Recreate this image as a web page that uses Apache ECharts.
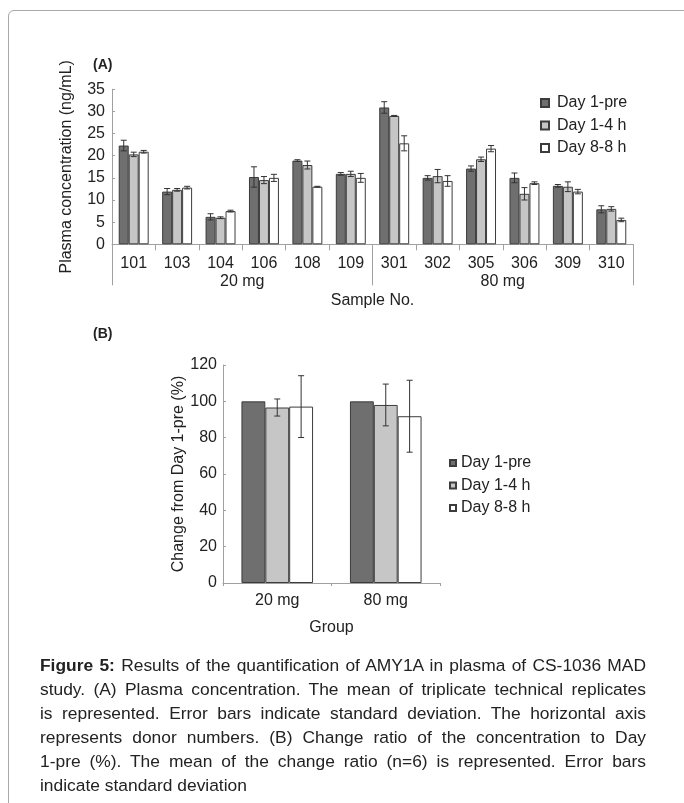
<!DOCTYPE html>
<html>
<head>
<meta charset="utf-8">
<script src="https://cdn.jsdelivr.net/npm/echarts@6/dist/echarts.min.js"></script>
<style>
html,body{margin:0;padding:0;background:#fff;}
#wrap{position:relative;width:684px;height:803px;overflow:hidden;}
#frame{position:absolute;left:8px;top:10px;width:700px;height:820px;border:1px solid #a8a8a8;border-radius:6px;box-sizing:border-box;}
#chart{position:absolute;left:0;top:0;width:684px;height:803px;}
#cap{position:absolute;left:40px;top:653px;width:606px;font-family:"Liberation Sans",Arial,sans-serif;font-size:17.4px;line-height:24.1px;color:#222;}
#cap div{text-align:justify;text-align-last:justify;white-space:nowrap;}
#cap div.last{text-align-last:left;}
</style>
</head>
<body>
<div id="wrap">
<div id="frame"></div>
<div id="chart"></div>
<div id="cap">
<div><b>Figure 5:</b> Results of the quantification of AMY1A in plasma of CS-1036 MAD</div>
<div>study. (A) Plasma concentration. The mean of triplicate technical replicates</div>
<div>is represented. Error bars indicate standard deviation. The horizontal axis</div>
<div>represents donor numbers. (B) Change ratio of the concentration to Day</div>
<div>1-pre (%). The mean of the change ratio (n=6) is represented. Error bars</div>
<div class="last">indicate standard deviation</div>
</div>
</div>
<script>
// ---- Panel A data ----
var samples = ['101','103','104','106','108','109','301','302','305','306','309','310'];
var doseGroups = ['20 mg','80 mg'];
var seriesNames = ['Day 1-pre','Day 1-4 h','Day 8-8 h'];
var aPre    = [22.3, 11.9, 6.2, 15.2, 18.9, 15.9, 30.9, 15.0, 17.1, 15.0, 13.2, 7.9];
var aPreSd  = [1.2, 0.7, 0.7, 2.3, 0.2, 0.3, 1.3, 0.5, 0.6, 1.1, 0.3, 0.8];
var a4h     = [20.3, 12.3, 6.0, 14.5, 17.9, 15.9, 29.0, 15.4, 19.2, 11.4, 13.0, 8.0];
var a4hSd   = [0.5, 0.3, 0.2, 0.8, 0.9, 0.6, 0.1, 1.5, 0.5, 1.4, 1.1, 0.5];
var a8h     = [20.9, 12.8, 7.5, 15.0, 13.0, 15.0, 22.8, 14.3, 21.6, 13.8, 11.9, 5.5];
var a8hSd   = [0.3, 0.3, 0.2, 0.8, 0.1, 1.0, 1.7, 1.2, 0.7, 0.3, 0.5, 0.4];
// ---- Panel B data ----
var groupsB = ['20 mg','80 mg'];
var bPre    = [100, 100];
var bPreSd  = [0, 0];
var b4h     = [96.6, 98.0];
var b4hSd   = [4.7, 11.5];
var b8h     = [97.1, 91.8];
var b8hSd   = [17.0, 19.8];

// fit caption lines (condensed like the original typesetting)
(function () {
  var lines = document.querySelectorAll('#cap div');
  var target = 600;
  var probe = [];
  for (var i = 0; i < lines.length; i++) {
    var s = document.createElement('span');
    s.style.whiteSpace = 'nowrap';
    s.innerHTML = lines[i].innerHTML;
    lines[i].parentNode.appendChild(s);
    var w = s.getBoundingClientRect().width;
    probe.push(s);
    if (i < lines.length - 1) {
      var n = lines[i].textContent.length;
      if (w > target) lines[i].style.letterSpacing = (-(w - target) / n).toFixed(3) + 'px';
    }
  }
  probe.forEach(function (s) { s.parentNode.removeChild(s); });
  var tot = 0, c = 0;
  for (var j = 0; j < lines.length - 1; j++) { tot += parseFloat(lines[j].style.letterSpacing || '0'); c++; }
  lines[lines.length - 1].style.letterSpacing = (tot / c).toFixed(3) + 'px';
})();

var fills = ['#6f6f6f', '#c6c6c6', '#ffffff'];
var edge = '#3c3c3c';
var txt = '#222';
var axisCol = '#a0a0a0';
var FONT = '"Liberation Sans", Arial, sans-serif';

function errSeries(name, xi, yi, means, sds, idx, frac, cap) {
  var data = means.map(function (m, i) { return [i, m, sds[i]]; });
  return {
    type: 'custom', name: name + ' err', xAxisIndex: xi, yAxisIndex: yi, z: 5,
    silent: true, legendHoverLink: false,
    renderItem: function (params, api) {
      var c = api.value(0), m = api.value(1), s = api.value(2);
      var band = api.size([1, 0])[0];
      var off = (idx - 1) * frac * band;
      var top = api.coord([c, m + s]);
      var bot = api.coord([c, m - s]);
      var x = top[0] + off;
      var style = { stroke: '#333', lineWidth: 1 };
      return { type: 'group', children: [
        { type: 'line', shape: { x1: x, y1: top[1], x2: x, y2: bot[1] }, style: style },
        { type: 'line', shape: { x1: x - cap, y1: top[1], x2: x + cap, y2: top[1] }, style: style },
        { type: 'line', shape: { x1: x - cap, y1: bot[1], x2: x + cap, y2: bot[1] }, style: style }
      ] };
    },
    data: data
  };
}

function barSeries(name, xi, yi, vals, idx, width) {
  return {
    type: 'bar', name: name, xAxisIndex: xi, yAxisIndex: yi, barWidth: width, barGap: '0%',
    itemStyle: { color: fills[idx], borderColor: edge, borderWidth: 1 },
    data: vals
  };
}

var chart = echarts.init(document.getElementById('chart'), null, { renderer: 'canvas' });
var fA = 0.23, fB = 0.22;
var option = {
  animation: false,
  textStyle: { fontFamily: FONT, color: txt },
  graphic: [
    { type: 'text', left: 93, top: 58, style: { text: '(A)', font: 'bold 14px ' + FONT, fill: txt } },
    { type: 'text', left: 93, top: 327, style: { text: '(B)', font: 'bold 14px ' + FONT, fill: txt } }
  ],
  legend: [
    { data: seriesNames.map(function (n) { return { name: n }; }), orient: 'vertical', left: 535, top: 90,
      icon: 'rect', itemWidth: 8, itemHeight: 8, itemGap: 6.5,
      textStyle: { fontSize: 16, color: txt, fontFamily: FONT, lineHeight: 16, padding: [0, 0, 0, 3] } },
    { data: seriesNames.map(function (n) { return { name: n + ' ' }; }), orient: 'vertical', left: 444, top: 450,
      icon: 'rect', itemWidth: 6, itemHeight: 6, itemGap: 6.5,
      textStyle: { fontSize: 16, color: txt, fontFamily: FONT, lineHeight: 16, padding: [0, 0, 0, 0] } }
  ],
  grid: [
    { left: 112, top: 89.3, width: 521, height: 155 },
    { left: 223, top: 365, width: 217, height: 218 }
  ],
  xAxis: [
    { type: 'category', gridIndex: 0, data: samples,
      axisLine: { lineStyle: { color: axisCol } },
      axisTick: { show: true, length: 6, lineStyle: { color: axisCol } },
      axisLabel: { fontSize: 16, color: txt, margin: 11, interval: 0 },
      name: 'Sample No.', nameLocation: 'middle', nameGap: 48,
      nameTextStyle: { fontSize: 16, color: txt } },
    { type: 'category', gridIndex: 0, data: doseGroups, position: 'bottom',
      axisLine: { show: false },
      axisTick: { show: true, length: 41, lineStyle: { color: axisCol } },
      axisLabel: { fontSize: 16, color: txt, margin: 29, interval: 0 } },
    { type: 'category', gridIndex: 1, data: groupsB,
      axisLine: { lineStyle: { color: axisCol } },
      axisTick: { show: true, length: 3, lineStyle: { color: axisCol } },
      axisLabel: { fontSize: 16, color: txt, margin: 10 },
      name: 'Group', nameLocation: 'middle', nameGap: 37,
      nameTextStyle: { fontSize: 16, color: txt } }
  ],
  yAxis: [
    { type: 'value', gridIndex: 0, min: 0, max: 35, interval: 5,
      axisLine: { show: true, lineStyle: { color: axisCol } },
      axisTick: { show: true, inside: true, length: 3, lineStyle: { color: axisCol } },
      splitLine: { show: false },
      axisLabel: { fontSize: 16, color: txt, margin: 7 },
      name: 'Plasma concentration (ng/mL)', nameLocation: 'middle', nameGap: 37,
      nameTextStyle: { fontSize: 16, color: txt } },
    { type: 'value', gridIndex: 1, min: 0, max: 120, interval: 20,
      axisLine: { show: true, lineStyle: { color: axisCol } },
      axisTick: { show: true, inside: true, length: 3, lineStyle: { color: axisCol } },
      splitLine: { show: false },
      axisLabel: { fontSize: 16, color: txt, margin: 6 },
      name: 'Change from Day 1-pre (%)', nameLocation: 'middle', nameGap: 33,
      nameTextStyle: { fontSize: 16, color: txt } }
  ],
  series: [
    barSeries(seriesNames[0], 0, 0, aPre, 0, '23%'),
    barSeries(seriesNames[1], 0, 0, a4h, 1, '23%'),
    barSeries(seriesNames[2], 0, 0, a8h, 2, '23%'),
    errSeries(seriesNames[0], 0, 0, aPre, aPreSd, 0, fA, 3),
    errSeries(seriesNames[1], 0, 0, a4h, a4hSd, 1, fA, 3),
    errSeries(seriesNames[2], 0, 0, a8h, a8hSd, 2, fA, 3),
    barSeries(seriesNames[0] + ' ', 2, 1, bPre, 0, '22%'),
    barSeries(seriesNames[1] + ' ', 2, 1, b4h, 1, '22%'),
    barSeries(seriesNames[2] + ' ', 2, 1, b8h, 2, '22%'),
    errSeries(seriesNames[1] + ' ', 2, 1, b4h, b4hSd, 1, fB, 3),
    errSeries(seriesNames[2] + ' ', 2, 1, b8h, b8hSd, 2, fB, 3)
  ]
};
chart.setOption(option);
</script>
</body>
</html>
